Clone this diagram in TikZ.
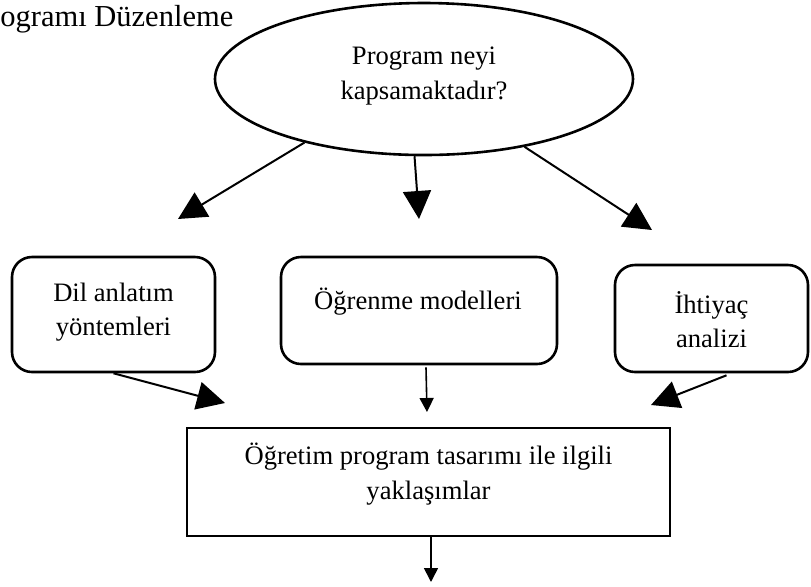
\documentclass[tikz,border=0pt]{standalone}
\usepackage{fontspec}
\setmainfont{Liberation Serif}
\usetikzlibrary{arrows.meta,shapes.geometric,calc}
\begin{document}
\begin{tikzpicture}[x=0.5pt,y=-0.5pt,
  box/.style={draw,line width=1.3pt,rounded corners=10pt,inner sep=0},
  txt/.style={align=center,font=\fontsize{13.3pt}{17.3pt}\selectfont,inner sep=0},
  big/.style={line width=1pt,-{Triangle[length=14pt,width=14pt]}},
  small/.style={line width=0.8pt,-{Triangle[length=7pt,width=7pt]}}]
\useasboundingbox (0,0) rectangle (811,586);
\node[anchor=base west,inner sep=0,font=\fontsize{15.25pt}{18pt}\selectfont] (H) at (0,26) {ogramı Düzenleme};
\node[draw,ellipse,line width=1.3pt,minimum width=209pt,minimum height=76pt,inner sep=0] (E) at (424,79) {};
\node[txt] (Et) at (424,76) {Program neyi\\kapsamaktadır?};
\node[box,minimum width=101.5pt,minimum height=57.5pt] (L) at (113.5,314.5) {};
\node[txt] (Lt) at (113.5,312) {Dil anlatım\\yöntemleri};
\node[box,minimum width=138pt,minimum height=53.5pt] (M) at (419,310.5) {};
\node[txt] (Mt) at (418,302) {Öğrenme modelleri};
\node[box,minimum width=96.5pt,minimum height=53.5pt] (R) at (711.5,318.5) {};
\node[txt] (Rt) at (711.5,319.5) {İhtiyaç\\analizi};
\node[draw,line width=1.3pt,inner sep=0,minimum width=241.5pt,minimum height=54pt] (B) at (428.5,482) {};
\node[txt] (Bt) at (428.5,474) {Öğretim program tasarımı ile ilgili\\yaklaşımlar};
\coordinate (t1) at (178,219);
\coordinate (t2) at (419,219);
\coordinate (t3) at (652,230);
\coordinate (t4) at (225,403);
\coordinate (t5) at (427,412);
\coordinate (t6) at (651,405);
\coordinate (t7) at (431,582);
\draw[big] (E.208.3) -- (t1);
\draw[big] (E.263.4) -- (t2);
\draw[big] (E.326.7) -- (t3);
\draw[big] (L.south) -- (t4);
\draw[small] ($(M.south)+(7,2)$) -- (t5);
\draw[big] ($(R.south)+(15,2)$) -- (t6);
\draw[small] ($(B.south)+(2.5,0)$) -- (t7);
\end{tikzpicture}
\end{document}
